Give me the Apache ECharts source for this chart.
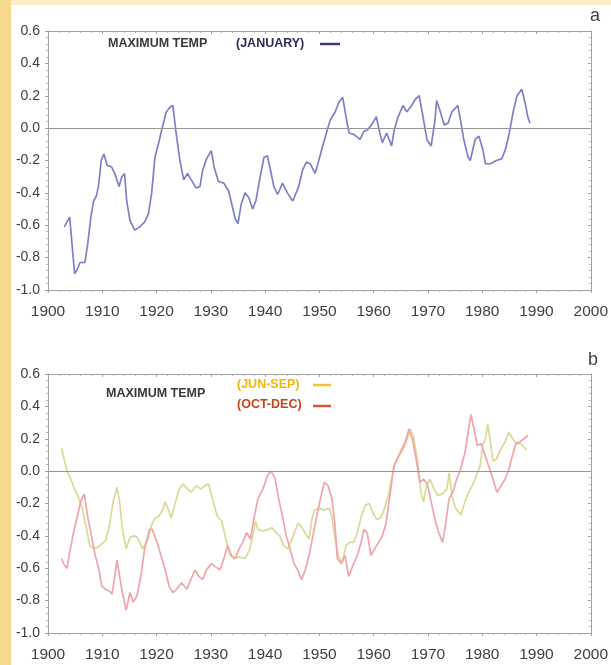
<!DOCTYPE html>
<html><head><meta charset="utf-8">
<script src="https://cdn.jsdelivr.net/npm/echarts@6/dist/echarts.min.js"></script>
<style>html,body{margin:0;padding:0;background:#fcefc4;}#c{width:611px;height:665px;}</style>
</head><body><div id="c"></div>
<script>
// ---- data ----
const xTicks = [1900,1910,1920,1930,1940,1950,1960,1970,1980,1990,2000];
const yTicks = [-1.0,-0.8,-0.6,-0.4,-0.2,0.0,0.2,0.4,0.6];

const janYears = [1903.0,1904.0,1904.9,1905.3,1905.9,1906.8,1907.3,1907.9,1908.4,1908.9,1909.3,1909.8,1910.3,1910.9,1911.7,1912.3,1913.1,1913.6,1914.1,1914.5,1915.1,1916.0,1916.9,1917.8,1918.5,1919.1,1919.7,1920.4,1921.1,1921.8,1922.5,1923.0,1923.6,1924.3,1925.0,1925.7,1926.4,1927.3,1928.0,1928.5,1929.2,1930.1,1930.6,1931.4,1932.4,1933.3,1934.0,1934.5,1935.0,1935.6,1936.3,1937.0,1937.7,1938.3,1939.1,1939.8,1940.4,1941.0,1941.6,1942.3,1943.2,1944.1,1945.1,1946.2,1946.9,1947.6,1948.3,1949.2,1949.9,1950.6,1951.3,1952.0,1952.9,1953.6,1954.3,1955.0,1955.5,1956.4,1957.5,1958.2,1958.9,1959.6,1960.5,1961.0,1961.6,1962.4,1963.3,1963.8,1964.5,1965.4,1966.1,1967.0,1967.7,1968.4,1969.1,1969.8,1970.6,1971.3,1971.6,1972.3,1973.0,1973.7,1974.4,1975.5,1976.0,1976.6,1977.4,1977.8,1978.7,1979.4,1980.1,1980.6,1981.5,1982.6,1983.6,1984.3,1985.0,1985.7,1986.4,1987.3,1988.0,1988.4,1988.8];
const janValues = [-0.61,-0.55,-0.90,-0.88,-0.83,-0.83,-0.72,-0.55,-0.45,-0.42,-0.36,-0.20,-0.16,-0.23,-0.24,-0.28,-0.36,-0.30,-0.28,-0.45,-0.57,-0.63,-0.61,-0.58,-0.53,-0.40,-0.18,-0.09,0.01,0.10,0.13,0.14,-0.03,-0.20,-0.32,-0.28,-0.32,-0.37,-0.36,-0.26,-0.19,-0.14,-0.24,-0.33,-0.34,-0.39,-0.49,-0.56,-0.59,-0.47,-0.40,-0.43,-0.50,-0.45,-0.30,-0.18,-0.17,-0.26,-0.36,-0.41,-0.34,-0.40,-0.45,-0.36,-0.26,-0.21,-0.22,-0.28,-0.20,-0.11,-0.03,0.05,0.10,0.16,0.19,0.05,-0.03,-0.04,-0.07,-0.02,-0.01,0.02,0.07,-0.01,-0.09,-0.03,-0.11,-0.01,0.07,0.14,0.10,0.14,0.18,0.20,0.07,-0.07,-0.11,0.05,0.17,0.10,0.02,0.03,0.10,0.14,0.05,-0.07,-0.18,-0.20,-0.07,-0.05,-0.13,-0.22,-0.22,-0.20,-0.19,-0.13,-0.03,0.10,0.20,0.24,0.14,0.07,0.03];

const junSepYears = [1902.5,1903.0,1903.5,1904.2,1904.9,1905.6,1906.3,1907.0,1907.7,1908.5,1909.2,1909.9,1910.6,1911.3,1912.0,1912.7,1913.2,1913.7,1914.4,1915.1,1915.8,1916.5,1917.4,1918.3,1919.0,1919.7,1920.4,1921.1,1921.6,1922.2,1922.7,1923.5,1924.2,1924.9,1925.7,1926.4,1927.3,1928.2,1928.9,1929.6,1930.3,1931.2,1932.0,1932.7,1933.5,1934.3,1935.2,1936.3,1937.1,1937.7,1938.2,1938.7,1939.6,1940.5,1941.3,1942.0,1942.7,1943.4,1944.2,1944.7,1945.4,1946.1,1946.8,1947.5,1948.1,1948.6,1949.1,1950.0,1950.9,1951.8,1952.3,1952.8,1953.5,1954.2,1954.9,1955.6,1956.3,1957.0,1957.7,1958.5,1959.2,1959.9,1960.6,1961.3,1962.0,1962.7,1963.4,1964.1,1964.8,1965.5,1966.2,1966.7,1967.3,1967.8,1968.3,1968.7,1969.2,1969.7,1970.4,1971.1,1971.8,1972.7,1973.5,1973.9,1974.4,1975.1,1976.1,1976.8,1977.5,1978.2,1978.9,1979.6,1980.1,1980.6,1981.0,1981.5,1982.0,1982.7,1983.5,1984.2,1984.9,1985.6,1986.3,1987.0,1987.7,1988.2];
const junSepValues = [0.14,0.07,0.00,-0.05,-0.11,-0.16,-0.23,-0.34,-0.46,-0.48,-0.47,-0.45,-0.43,-0.34,-0.19,-0.10,-0.19,-0.36,-0.48,-0.41,-0.40,-0.41,-0.48,-0.43,-0.34,-0.29,-0.28,-0.24,-0.19,-0.24,-0.29,-0.19,-0.11,-0.08,-0.11,-0.13,-0.09,-0.11,-0.09,-0.08,-0.17,-0.28,-0.31,-0.41,-0.52,-0.54,-0.53,-0.54,-0.49,-0.40,-0.31,-0.36,-0.37,-0.36,-0.35,-0.38,-0.40,-0.46,-0.48,-0.44,-0.38,-0.32,-0.35,-0.39,-0.42,-0.30,-0.24,-0.23,-0.24,-0.23,-0.28,-0.40,-0.52,-0.57,-0.46,-0.44,-0.44,-0.38,-0.28,-0.21,-0.20,-0.26,-0.30,-0.29,-0.23,-0.15,-0.03,0.06,0.10,0.14,0.20,0.26,0.22,0.12,0.01,-0.13,-0.19,-0.09,-0.05,-0.11,-0.15,-0.14,-0.11,-0.01,-0.15,-0.23,-0.27,-0.19,-0.13,-0.09,-0.03,0.03,0.16,0.20,0.29,0.18,0.06,0.08,0.14,0.18,0.24,0.20,0.17,0.17,0.15,0.13];

const octDecYears = [1902.5,1903.0,1903.5,1904.0,1904.7,1905.4,1906.1,1906.7,1907.3,1908.0,1908.7,1909.4,1909.9,1910.6,1911.3,1911.8,1912.3,1912.7,1913.2,1913.7,1914.4,1915.1,1915.7,1916.4,1917.1,1917.8,1918.7,1919.2,1920.1,1920.8,1921.6,1922.3,1923.0,1923.7,1924.6,1925.6,1926.3,1927.1,1927.8,1928.5,1929.2,1930.1,1930.8,1931.7,1932.4,1933.1,1933.8,1934.5,1935.2,1935.9,1936.6,1937.3,1938.0,1938.7,1939.6,1940.4,1941.1,1941.8,1942.5,1943.2,1943.9,1944.6,1945.3,1946.0,1946.7,1947.4,1948.1,1948.8,1949.5,1950.2,1950.9,1951.6,1952.3,1952.9,1953.3,1954.0,1954.7,1955.4,1956.1,1957.0,1957.7,1958.2,1958.8,1959.5,1960.2,1960.9,1961.6,1962.3,1963.0,1963.7,1964.4,1965.1,1965.8,1966.5,1967.1,1967.8,1968.5,1969.2,1969.9,1970.6,1971.3,1972.0,1972.7,1973.2,1973.9,1974.6,1975.3,1976.0,1976.8,1977.5,1977.9,1978.5,1979.1,1979.8,1980.5,1981.2,1982.0,1982.7,1983.5,1984.2,1984.9,1985.6,1986.2,1986.9,1987.7,1988.4];
const octDecValues = [-0.54,-0.58,-0.60,-0.50,-0.38,-0.28,-0.18,-0.14,-0.28,-0.40,-0.52,-0.61,-0.71,-0.73,-0.74,-0.76,-0.65,-0.55,-0.65,-0.75,-0.86,-0.75,-0.81,-0.77,-0.65,-0.48,-0.36,-0.36,-0.44,-0.52,-0.61,-0.71,-0.75,-0.73,-0.69,-0.73,-0.67,-0.61,-0.65,-0.67,-0.61,-0.57,-0.59,-0.61,-0.54,-0.46,-0.52,-0.54,-0.48,-0.44,-0.38,-0.42,-0.28,-0.17,-0.11,-0.03,0.00,-0.04,-0.17,-0.28,-0.40,-0.48,-0.57,-0.61,-0.67,-0.61,-0.52,-0.40,-0.28,-0.17,-0.07,-0.09,-0.17,-0.34,-0.54,-0.57,-0.52,-0.65,-0.59,-0.52,-0.44,-0.36,-0.38,-0.52,-0.48,-0.44,-0.40,-0.32,-0.15,0.03,0.08,0.13,0.18,0.26,0.20,0.08,-0.07,-0.05,-0.08,-0.19,-0.30,-0.38,-0.44,-0.34,-0.17,-0.13,-0.05,0.01,0.11,0.26,0.35,0.26,0.16,0.17,0.10,0.03,-0.05,-0.13,-0.09,-0.05,0.01,0.10,0.17,0.18,0.20,0.22];

const panelLetters = ['a','b'];
const legendTitle = 'MAXIMUM TEMP';
const seriesNames = ['(JANUARY)','(JUN-SEP)','(OCT-DEC)'];

// ---- chart ----
const zip = (xs, ys) => xs.map((x, i) => [x, ys[i]]);
const FONT = "'Liberation Sans', Arial, sans-serif";
const axisGray = '#a0a0a0';

function xAx(grid, pos, labels) {
  return {
    type: 'value', gridIndex: grid, position: pos, min: 1900, max: 2000, interval: 10,
    axisLine: { show: true, onZero: false, lineStyle: { color: axisGray, width: 1 } },
    axisTick: { show: true, inside: pos === 'top', length: 3, lineStyle: { color: axisGray } },
    minorTick: { show: true, splitNumber: 5, length: 2, lineStyle: { color: '#b4b4b4' } },
    splitLine: { show: false },
    axisLabel: { show: labels, margin: 14, color: '#404040', fontSize: 15.5, fontFamily: FONT,
      formatter: v => String(v) }
  };
}
function yAx(grid, pos, labels) {
  return {
    type: 'value', gridIndex: grid, position: pos, min: -1.0, max: 0.6, interval: 0.2,
    axisLine: { show: true, onZero: false, lineStyle: { color: axisGray, width: 1 } },
    axisTick: { show: true, inside: pos === 'right', length: 3, lineStyle: { color: axisGray } },
    minorTick: { show: true, splitNumber: 5, length: 2, lineStyle: { color: '#b4b4b4' } },
    splitLine: { show: false },
    axisLabel: { show: labels, margin: 8, color: '#404040', fontSize: 14, fontFamily: FONT,
      formatter: v => v.toFixed(1) }
  };
}
const zeroLine = {
  silent: true, symbol: 'none', label: { show: false },
  lineStyle: { color: '#969696', width: 1, type: 'solid' },
  data: [{ yAxis: 0 }]
};

const chart = echarts.init(document.getElementById('c'), null, { renderer: 'canvas' });
chart.setOption({
  backgroundColor: '#fcefc4',
  animation: false,
  grid: [
    { left: 48, top: 31, width: 557, height: 259, show: true, backgroundColor: '#ffffff', borderWidth: 0 },
    { left: 48, top: 374, width: 557, height: 259, show: true, backgroundColor: '#ffffff', borderWidth: 0 }
  ],
  xAxis: [xAx(0, 'bottom', true), xAx(0, 'top', false), xAx(1, 'bottom', true), xAx(1, 'top', false)],
  yAxis: [yAx(0, 'left', true), yAx(0, 'right', false), yAx(1, 'left', true), yAx(1, 'right', false)],
  graphic: [
    { type: 'rect', z: -10, shape: { x: 11, y: 5, width: 600, height: 660 }, style: { fill: '#ffffff' } },
    { type: 'rect', z: -10, shape: { x: 0, y: 0, width: 11, height: 665 }, style: { fill: '#f6d98c' } },
    { type: 'text', left: 590, top: 7, style: { text: panelLetters[0], fontSize: 18, fill: '#444', fontFamily: FONT } },
    { type: 'text', left: 588, top: 351, style: { text: panelLetters[1], fontSize: 18, fill: '#444', fontFamily: FONT } },
    // legend panel a
    { type: 'text', left: 108, top: 37, style: { text: legendTitle, fontSize: 12.5, fontWeight: 'bold', fill: '#3a3a3a', fontFamily: FONT } },
    { type: 'text', left: 236, top: 37, style: { text: seriesNames[0], fontSize: 12.5, fontWeight: 'bold', fill: '#2c2c58', fontFamily: FONT } },
    { type: 'line', shape: { x1: 320, y1: 44, x2: 340, y2: 44 }, style: { stroke: '#3a3a7c', lineWidth: 2.5 } },
    // legend panel b
    { type: 'text', left: 106, top: 387, style: { text: legendTitle, fontSize: 12.5, fontWeight: 'bold', fill: '#3a3a3a', fontFamily: FONT } },
    { type: 'text', left: 237, top: 378, style: { text: seriesNames[1], fontSize: 12.5, fontWeight: 'bold', fill: '#f2b70a', fontFamily: FONT } },
    { type: 'line', shape: { x1: 313, y1: 385, x2: 331, y2: 385 }, style: { stroke: '#f3c235', lineWidth: 2.5 } },
    { type: 'text', left: 237, top: 398, style: { text: seriesNames[2], fontSize: 12.5, fontWeight: 'bold', fill: '#c8441a', fontFamily: FONT } },
    { type: 'line', shape: { x1: 313, y1: 406, x2: 331, y2: 406 }, style: { stroke: '#d9583a', lineWidth: 2.5 } }
  ],
  series: [
    { type: 'line', name: seriesNames[0], xAxisIndex: 0, yAxisIndex: 0, data: zip(janYears, janValues),
      showSymbol: false, lineStyle: { color: '#7d80c8', width: 1.7 }, markLine: zeroLine, z: 3 },
    { type: 'line', name: seriesNames[1], xAxisIndex: 2, yAxisIndex: 2, data: zip(junSepYears, junSepValues),
      showSymbol: false, lineStyle: { color: '#dcd896', width: 1.7 }, markLine: zeroLine, z: 3 },
    { type: 'line', name: seriesNames[2], xAxisIndex: 2, yAxisIndex: 2, data: zip(octDecYears, octDecValues),
      showSymbol: false, lineStyle: { color: '#f1a4ac', width: 1.7 }, z: 4 }
  ]
});
</script></body></html>
